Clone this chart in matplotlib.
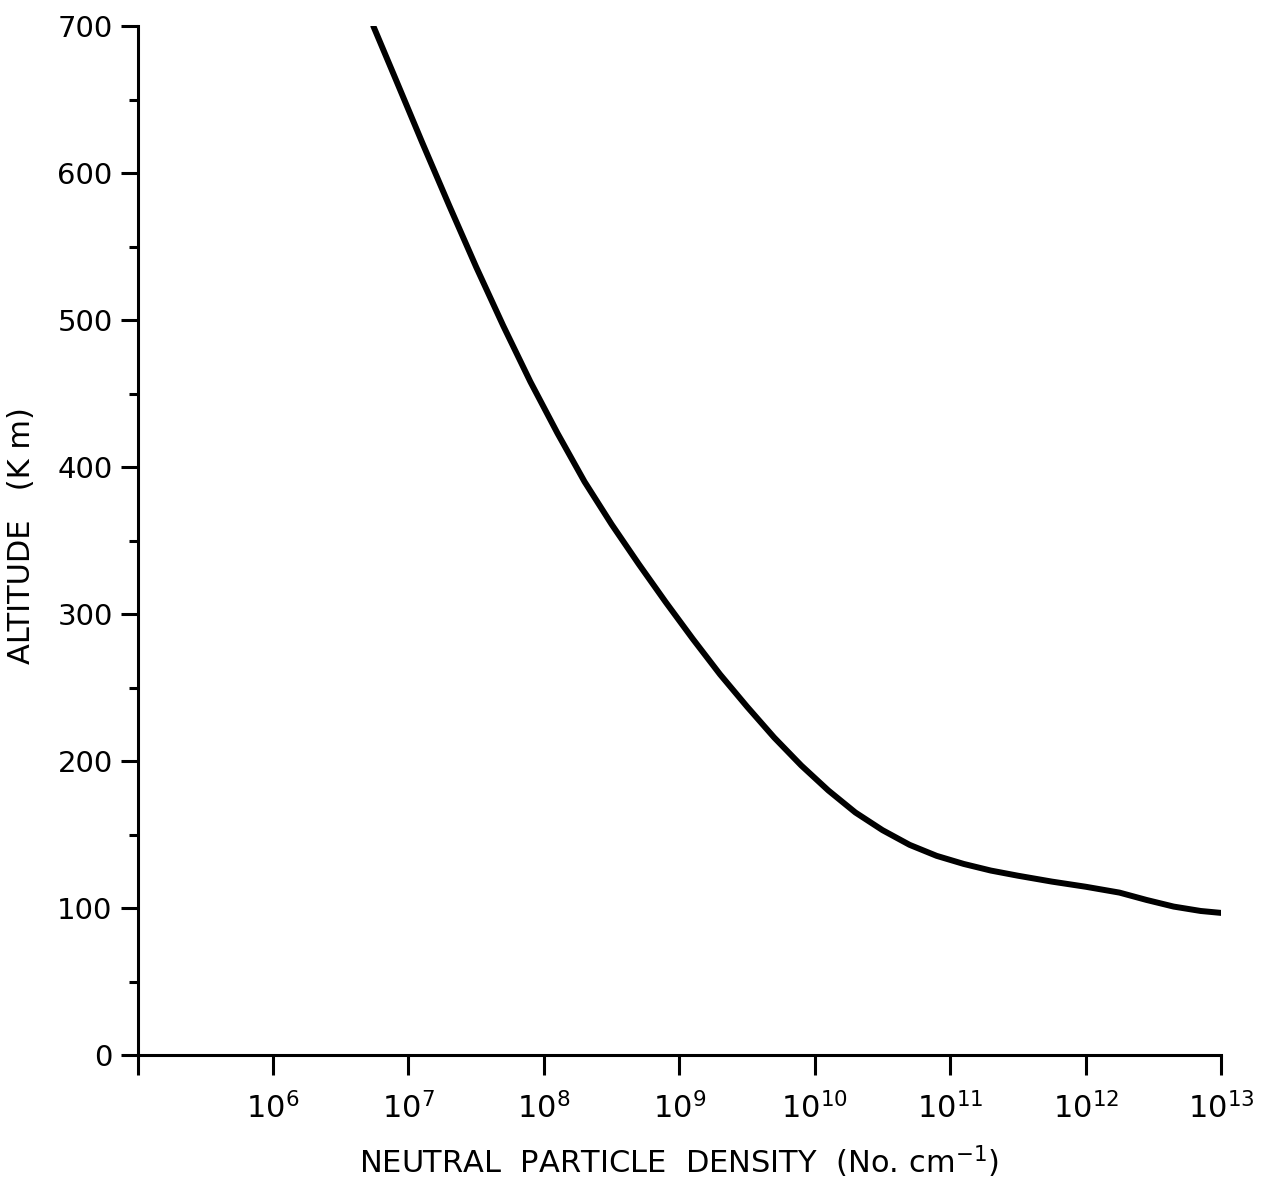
import numpy as np
import matplotlib
matplotlib.use('Agg')
import matplotlib.pyplot as plt
from matplotlib.ticker import FixedLocator, MultipleLocator

# Neutral particle density profile: log10 of density (No. cm^-1) against altitude (km)
log_density = [6.74, 6.90, 7.10, 7.30, 7.50, 7.70, 7.90, 8.10,
               8.30, 8.50, 8.70, 8.90, 9.10, 9.30, 9.50, 9.70,
               9.90, 10.10, 10.30, 10.50, 10.70, 10.90, 11.10, 11.30,
               11.50, 11.75, 12.00, 12.25, 12.45, 12.65, 12.85, 13.00]
altitude = [700, 665, 621, 578, 536, 496, 458, 423,
            390, 361, 334, 308, 283, 259, 237, 216,
            197, 180, 165, 153, 143, 135.5, 130, 125.5,
            122, 118, 114.5, 110.5, 105.5, 101, 98, 96.7]

x_tick_exps = [5, 6, 7, 8, 9, 10, 11, 12, 13]
y_ticks = [0, 100, 200, 300, 400, 500, 600, 700]

density = 10.0 ** np.array(log_density)

plt.rcParams['font.family'] = 'DejaVu Sans'
plt.rcParams['mathtext.fontset'] = 'dejavusans'

fig = plt.figure(figsize=(12.71, 11.82), dpi=100)
ax = fig.add_axes([0.1083, 0.1074, 0.8524, 0.8706])

ax.plot(density, altitude, color='black', lw=4.3, solid_capstyle='round',
        solid_joinstyle='round')

ax.set_xscale('log')
ax.set_xlim(1e5, 1e13)
ax.set_ylim(0, 700)

ax.xaxis.set_major_locator(FixedLocator([10.0 ** e for e in x_tick_exps]))
ax.xaxis.set_minor_locator(FixedLocator([]))
ax.set_xticklabels([''] + [r'$10^{%d}$' % e for e in x_tick_exps[1:]])
ax.set_yticks(y_ticks)
ax.yaxis.set_minor_locator(MultipleLocator(50))

for side in ['top', 'right']:
    ax.spines[side].set_visible(False)
for side in ['left', 'bottom']:
    ax.spines[side].set_linewidth(2.2)

ax.tick_params(axis='y', which='major', direction='out', length=12, width=2.2,
               labelsize=21, pad=6)
ax.tick_params(axis='y', which='minor', direction='out', length=6.5, width=2.2)
ax.tick_params(axis='x', which='major', direction='out', length=14.5, width=2.2,
               labelsize=22, pad=12)

ax.set_xlabel(r'NEUTRAL  PARTICLE  DENSITY  (No. cm$^{-1}$)', fontsize=22,
              labelpad=14)
ax.set_ylabel('ALTITUDE   (K m)', fontsize=22)
ax.yaxis.set_label_coords(-0.094, 0.505)

fig.savefig('out.png', dpi=100, facecolor='white')
